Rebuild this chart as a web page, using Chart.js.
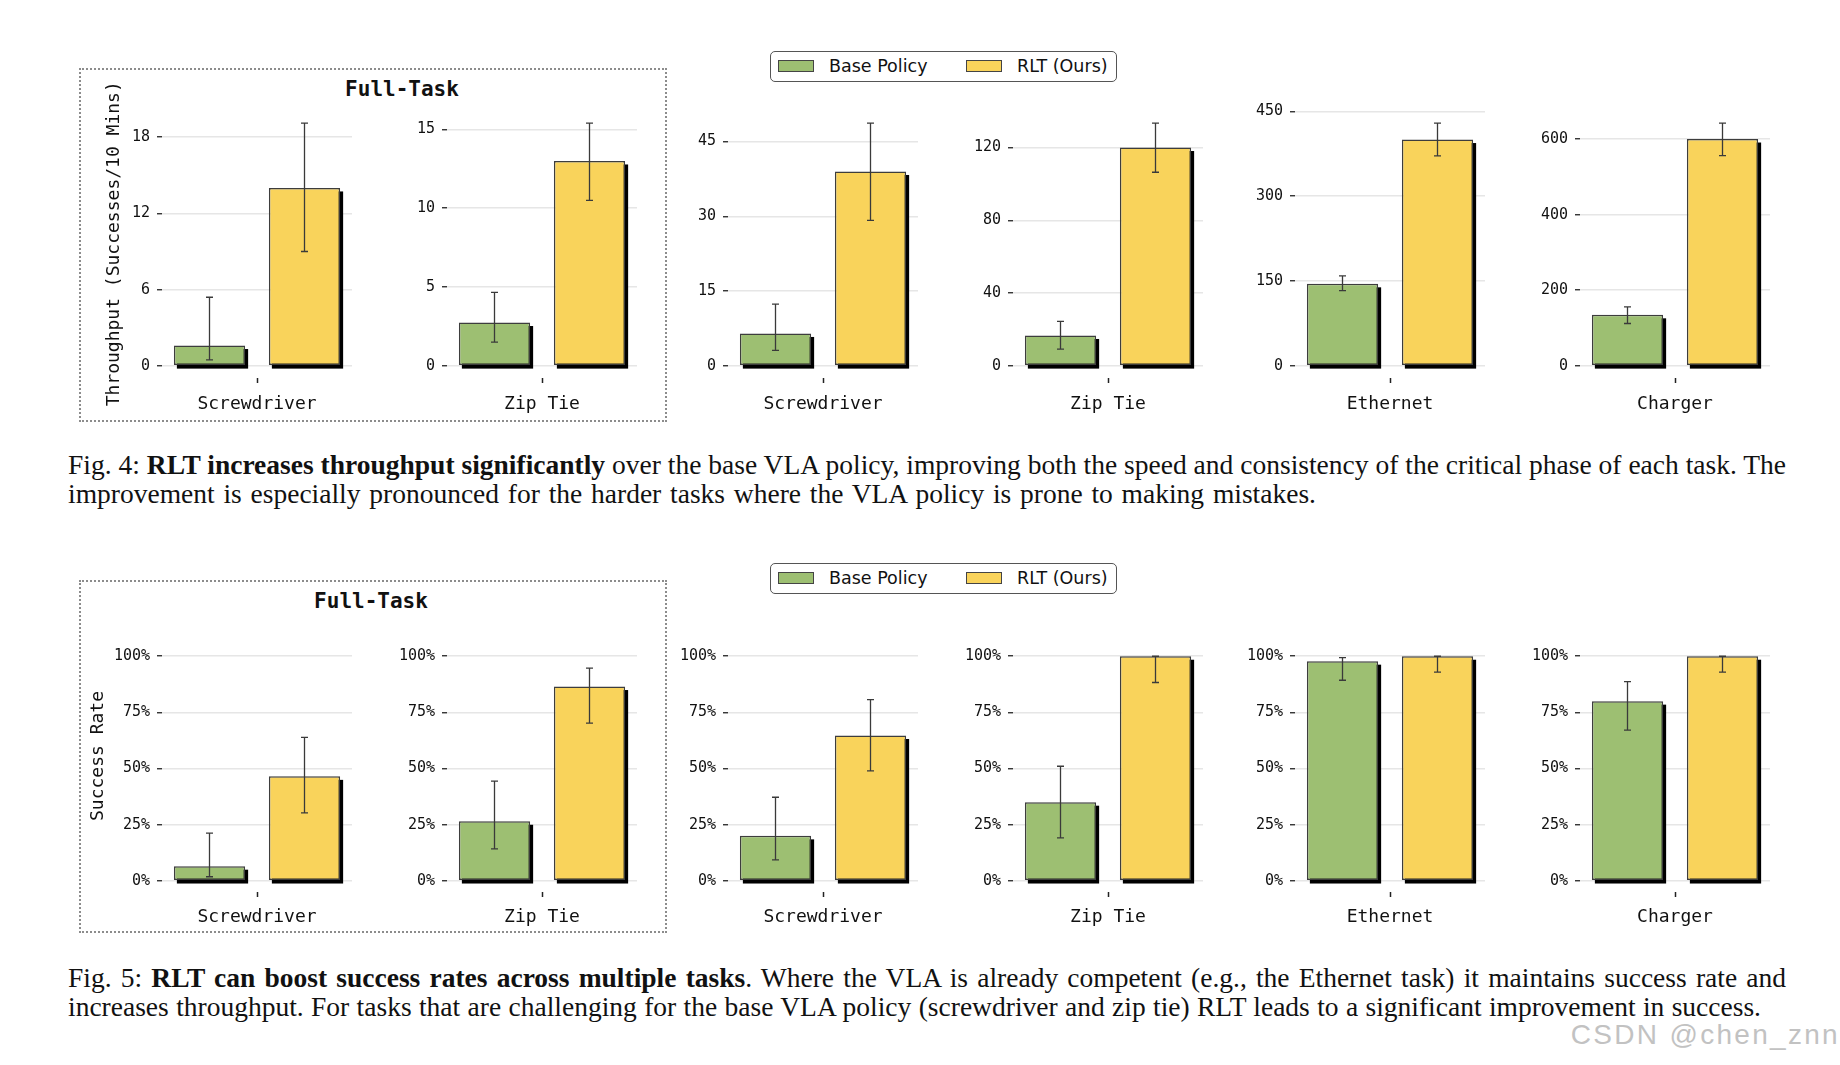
<!DOCTYPE html>
<html>
<head>
<meta charset="utf-8">
<script src="https://cdn.jsdelivr.net/npm/chart.js@4.4.1/dist/chart.umd.min.js"></script>
<style>
  body { margin: 0; background: #fff; width: 1840px; height: 1065px; position: relative; overflow: hidden; }
  canvas { position: absolute; }
  .box { position: absolute; border: 2px dotted #8c8c8c; box-sizing: border-box; }
  .panelTitle { position: absolute; width: 240px; text-align: center; font: bold 21px 'DejaVu Sans Mono', monospace; line-height: 24px; color: #111; }
  .legend { position: absolute; width: 347px; height: 31px; border: 1.5px solid #555; border-radius: 5px; box-sizing: border-box; font: 17.5px 'DejaVu Sans', sans-serif; color: #111; }
  .legend .patch { position: absolute; top: 8px; width: 36px; height: 12px; border: 1.5px solid #444; box-sizing: border-box; }
  .legend .txt { position: absolute; top: 2px; line-height: 24px; }
  .cap { position: absolute; left: 68px; font: 27.5px 'Liberation Serif', 'Times New Roman', serif; line-height: 29px; color: #111; }
  .cap div { white-space: nowrap; width: max-content; transform-origin: 0 50%; }
  .mark { position: absolute; right: 0; top: 1021px; font: 28px 'Liberation Sans', Arial, sans-serif; line-height: 28px; color: #c2c2c2; letter-spacing: 2.3px; }
</style>
</head>
<body>

<div class="box" style="left:79px; top:68px; width:588px; height:354px;"></div>
<div class="box" style="left:79px; top:580px; width:588px; height:353px;"></div>

<div class="panelTitle" style="left:282px; top:77px;">Full-Task</div>
<div class="panelTitle" style="left:251px; top:589px;">Full-Task</div>

<div class="legend" style="left:770px; top:51px;">
  <div class="patch" style="left:7px; background:#9dbf72;"></div><div class="txt" style="left:58px;">Base Policy</div>
  <div class="patch" style="left:195px; background:#f9d35b;"></div><div class="txt" style="left:246px;">RLT (Ours)</div>
</div>
<div class="legend" style="left:770px; top:563px;">
  <div class="patch" style="left:7px; background:#9dbf72;"></div><div class="txt" style="left:58px;">Base Policy</div>
  <div class="patch" style="left:195px; background:#f9d35b;"></div><div class="txt" style="left:246px;">RLT (Ours)</div>
</div>

<div class="cap" style="top:450px;">
  <div data-w="1718">Fig. 4: <b>RLT increases throughput significantly</b> over the base VLA policy, improving both the speed and consistency of the critical phase of each task. The</div>
  <div data-w="1248">improvement is especially pronounced for the harder tasks where the VLA policy is prone to making mistakes.</div>
</div>
<div class="cap" style="top:963px;">
  <div data-w="1718">Fig. 5: <b>RLT can boost success rates across multiple tasks</b>. Where the VLA is already competent (e.g., the Ethernet task) it maintains success rate and</div>
  <div data-w="1693">increases throughput. For tasks that are challenging for the base VLA policy (screwdriver and zip tie) RLT leads to a significant improvement in success.</div>
</div>

<div class="mark">CSDN @chen_znn</div>

<script>
// data
const taskLabels = ['Screwdriver', 'Zip Tie', 'Screwdriver', 'Zip Tie', 'Ethernet', 'Charger'];
const seriesLabels = ['Base Policy', 'RLT (Ours)'];

// Fig. 4: throughput (successes / 10 mins), bar value and error bar ends
const throughputBase   = [1.6, 2.75, 6.5, 16.7, 145, 135];
const throughputBaseLo = [0.47, 1.5, 3.1, 9.2, 133, 112];
const throughputBaseHi = [5.4, 4.66, 12.4, 24.5, 159, 156];
const throughputRlt    = [14, 13, 39, 120, 400, 600];
const throughputRltLo  = [9.0, 10.5, 29.2, 106.4, 371, 556];
const throughputRltHi  = [19.1, 15.4, 48.7, 133.4, 429, 642];
const throughputTicks  = [[0, 6, 12, 18], [0, 5, 10, 15], [0, 15, 30, 45], [0, 40, 80, 120], [0, 150, 300, 450], [0, 200, 400, 600]];

// Fig. 5: success rate (%)
const successBase   = [6.5, 26.5, 20, 35, 97.8, 80];
const successBaseLo = [1.8, 14.2, 9.3, 19.1, 89.3, 67.1];
const successBaseHi = [21.2, 44.4, 37.2, 51, 99.4, 88.7];
const successRlt    = [46.5, 86.5, 64.7, 100, 100, 100];
const successRltLo  = [30.2, 70.2, 48.9, 88.3, 92.9, 92.9];
const successRltHi  = [63.9, 94.7, 80.7, 100, 100, 100];
const successTicks  = [0, 25, 50, 75, 100];

// layout of the plot areas (page pixels)
const plotLeft  = [162, 447, 728, 1013, 1295, 1580];
const PLOT_W = 190, AXIS_W = 80, X_AXIS_H = 45, PAD_TOP = 32, PAD_RIGHT = 6;

const GREEN = '#9dbf72', YELLOW = '#f9d35b', EDGE = '#3d3d3d';
const MONO = "'DejaVu Sans Mono', monospace";

// black offset block behind each bar
const shadowPlugin = {
    id: 'barShadow',
    beforeDatasetsDraw(chart) {
        const ctx = chart.ctx;
        ctx.save();
        ctx.fillStyle = '#000';
        chart.data.datasets.forEach((ds, i) => {
            chart.getDatasetMeta(i).data.forEach(bar => {
                const p = bar.getProps(['x', 'y', 'base', 'width'], true);
                ctx.fillRect(p.x - p.width / 2 + 3, p.y + 3.5, p.width, p.base - p.y);
            });
        });
        ctx.restore();
    }
};

const errorBarPlugin = {
    id: 'errorBars',
    afterDatasetsDraw(chart) {
        const ctx = chart.ctx;
        const yScale = chart.scales.y;
        ctx.save();
        ctx.strokeStyle = '#3a3a3a';
        ctx.lineWidth = 1.3;
        chart.data.datasets.forEach((ds, i) => {
            chart.getDatasetMeta(i).data.forEach((bar, j) => {
                const x = bar.x;
                const yLo = yScale.getPixelForValue(ds.errLo[j]);
                const yHi = yScale.getPixelForValue(ds.errHi[j]);
                ctx.beginPath();
                ctx.moveTo(x, yLo); ctx.lineTo(x, yHi);
                ctx.moveTo(x - 3.5, yLo); ctx.lineTo(x + 3.5, yLo);
                ctx.moveTo(x - 3.5, yHi); ctx.lineTo(x + 3.5, yHi);
                ctx.stroke();
            });
        });
        ctx.restore();
    }
};

// y title of the first panel; it runs past the plot height, so the
// built-in scale title (which squeezes to fit) is not used
const yTitlePlugin = {
    id: 'yTitle',
    afterDraw(chart, args, opts) {
        if (!opts.text) return;
        const ctx = chart.ctx;
        ctx.save();
        ctx.translate(opts.x, opts.y);
        ctx.rotate(-Math.PI / 2);
        ctx.font = '18px ' + MONO;
        ctx.fillStyle = '#111';
        ctx.textAlign = 'center';
        ctx.textBaseline = 'middle';
        ctx.fillText(opts.text, 0, 0);
        ctx.restore();
    }
};

function makeChart(i, o) {
    const canvas = document.createElement('canvas');
    const left = plotLeft[i] - AXIS_W;
    const top = o.areaTop - PAD_TOP;
    canvas.width = AXIS_W + PLOT_W + PAD_RIGHT;
    canvas.height = PAD_TOP + o.areaH + X_AXIS_H;
    canvas.style.left = left + 'px';
    canvas.style.top = top + 'px';
    document.body.appendChild(canvas);

    new Chart(canvas, {
        type: 'bar',
        data: {
            labels: [taskLabels[i]],
            datasets: [{
                label: seriesLabels[0],
                data: [o.base[i]],
                errLo: [o.baseLo[i]],
                errHi: [o.baseHi[i]],
                backgroundColor: GREEN,
                borderColor: EDGE,
                borderWidth: 1.5,
                borderSkipped: false
            }, {
                label: seriesLabels[1],
                data: [o.rlt[i]],
                errLo: [o.rltLo[i]],
                errHi: [o.rltHi[i]],
                backgroundColor: YELLOW,
                borderColor: EDGE,
                borderWidth: 1.5,
                borderSkipped: false
            }]
        },
        options: {
            responsive: false,
            animation: false,
            layout: { padding: { top: PAD_TOP, right: PAD_RIGHT, left: 0, bottom: 0 } },
            plugins: {
                legend: { display: false },
                tooltip: { enabled: false },
                yTitle: i === 0 ? { text: o.yTitle, x: o.titleX - left, y: o.titleY - top } : {}
            },
            datasets: { bar: { categoryPercentage: 1, barPercentage: 0.75 } },
            scales: {
                x: {
                    offset: true,
                    border: { display: false },
                    grid: { drawOnChartArea: false, offset: false, tickLength: 5, tickColor: '#222', tickWidth: 1.5 },
                    ticks: { color: '#111', font: { family: MONO, size: 18 }, padding: o.xPad },
                    afterFit: s => { s.height = X_AXIS_H; }
                },
                y: {
                    min: o.yMin,
                    max: o.yMax,
                    border: { display: false },
                    grid: { color: '#e6e6e6', lineWidth: 1.5, tickLength: 5, tickColor: '#222', tickWidth: 1.3 },
                    ticks: { color: '#111', font: { family: MONO, size: 15 }, padding: 7, callback: o.fmt },
                    afterBuildTicks: s => { s.ticks = o.ticks.filter(v => v <= s.max).map(v => ({ value: v })); },
                    afterFit: s => { s.width = AXIS_W; }
                }
            }
        },
        plugins: [shadowPlugin, errorBarPlugin, yTitlePlugin]
    });
}

for (let i = 0; i < taskLabels.length; i++) {
    const top = Math.max(throughputBaseHi[i], throughputRltHi[i]);
    makeChart(i, {
        areaTop: 111.2, areaH: 267,
        base: throughputBase, baseLo: throughputBaseLo, baseHi: throughputBaseHi,
        rlt: throughputRlt, rltLo: throughputRltLo, rltHi: throughputRltHi,
        ticks: throughputTicks[i],
        yMin: -0.05 * top, yMax: 1.05 * top,
        fmt: v => String(v),
        yTitle: 'Throughput (Successes/10 Mins)', titleX: 114, titleY: 244, xPad: 11
    });
    makeChart(i, {
        areaTop: 645, areaH: 247.5,
        base: successBase, baseLo: successBaseLo, baseHi: successBaseHi,
        rlt: successRlt, rltLo: successRltLo, rltHi: successRltHi,
        ticks: successTicks,
        yMin: -5, yMax: 105,
        fmt: v => v + '%',
        yTitle: 'Success Rate', titleX: 98, titleY: 756, xPad: 10
    });
}

// caption lines: stretch the word gaps so each line ends where it does in the paper
document.querySelectorAll('.cap div').forEach(line => {
    const target = +line.dataset.w;
    const natural = line.getBoundingClientRect().width;
    const gaps = line.textContent.trim().split(/\s+/).length - 1;
    const ws = (target - natural) / gaps;
    if (ws > -2) {
        line.style.wordSpacing = ws + 'px';
    } else {
        line.style.wordSpacing = '-2px';
        const w2 = line.getBoundingClientRect().width;
        line.style.transform = 'scaleX(' + (target / w2) + ')';
    }
});
</script>
</body>
</html>
